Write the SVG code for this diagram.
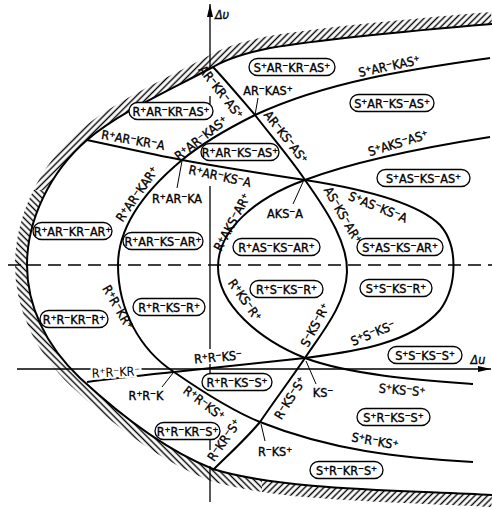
<svg xmlns="http://www.w3.org/2000/svg" width="492" height="509" viewBox="0 0 492 509">
<style>
.t{font-family:"DejaVu Sans Condensed","DejaVu Sans",sans-serif;font-size:12.5px;fill:#000;stroke:#000;stroke-width:0.35;text-anchor:middle}
.pl{fill:#fff;stroke:#000;stroke-width:1.3}
.c{fill:none;stroke:#000;stroke-width:2}
.ax{fill:none;stroke:#000;stroke-width:1.3}
.ld{fill:none;stroke:#000;stroke-width:1}
.halo{stroke:#fff;stroke-width:4;paint-order:stroke}
</style>
<defs>
<path id="bnd" d="M492,24 C420,30 330,38 270,48 C240,54 225,60 213,67 C170,90 120,112 87,140 C50,172 27,220 27,265 C27,305 45,345 80,378 C120,415 165,450 213,469 C280,490 400,490 492,495"/>
<pattern id="hA" width="4.5" height="4.5" patternUnits="userSpaceOnUse" patternTransform="rotate(45)"><line x1="2.25" y1="-1" x2="2.25" y2="6" stroke="#000" stroke-width="1.4"/></pattern>
<pattern id="hB" width="4.5" height="4.5" patternUnits="userSpaceOnUse" patternTransform="rotate(-45)"><line x1="2.25" y1="-1" x2="2.25" y2="6" stroke="#000" stroke-width="1.4"/></pattern>
<mask id="hm" maskUnits="userSpaceOnUse" x="0" y="0" width="492" height="509">
<use href="#bnd" fill="none" stroke="#fff" stroke-width="24"/>
<path d="M492,24 C420,30 330,38 270,48 C240,54 225,60 213,67 C170,90 120,112 87,140 C50,172 27,220 27,265 C27,305 45,345 80,378 C120,415 165,450 213,469 C280,490 400,490 492,495 Z" fill="#000"/>
</mask>
<marker id="arr" markerWidth="14" markerHeight="8" refX="13" refY="3.5" orient="auto" markerUnits="userSpaceOnUse"><path d="M0,0.5 L13,3.5 L0,6.5 Z" fill="#000"/></marker>
</defs>
<rect width="492" height="509" fill="#fff"/>

<g id="hatching" mask="url(#hm)">
<rect x="0" y="0" width="492" height="190" fill="url(#hA)"/>
<rect x="0" y="190" width="262" height="319" fill="url(#hB)"/>
<rect x="262" y="400" width="230" height="109" fill="url(#hA)"/>
</g>
<use id="boundary" href="#bnd" class="c"/>

<g id="axes">
<line class="ax" x1="210" y1="67" x2="210" y2="4" marker-end="url(#arr)"/>
<line class="ax" x1="210" y1="96" x2="210" y2="104"/>
<line class="ax" x1="210" y1="186" x2="210" y2="349"/>
<line class="ax" x1="210" y1="364" x2="210" y2="373"/>
<line class="ax" x1="210" y1="440" x2="210" y2="450"/>
<line class="ax" x1="210" y1="466" x2="210" y2="502"/>
<line class="ax" x1="17" y1="369" x2="92" y2="369"/>
<line class="ax" x1="139" y1="369" x2="491" y2="369" marker-end="url(#arr)"/>
<line class="ax" x1="8" y1="265" x2="492" y2="265" stroke-dasharray="13 7"/>
<text class="t" x="222" y="19" font-style="italic">Δυ</text>
<text class="t" x="478" y="364" font-style="italic">Δu</text>
</g>

<g id="connectors">
<path id="c1" class="c" d="M490,58 C420,68 330,80 255,115 C225,130 200,145 182,160 C140,195 118,230 118,265 C118,310 140,350 174,372 C200,390 230,410 260,422 C330,450 400,458 473,462"/>
<path id="c2" class="c" d="M87,140 C120,147 150,154 182,160 C225,168 265,174 305,180 C370,190 420,205 440,225 C458,245 458,285 440,310 C410,345 350,352 305,358 C260,363 215,368 174,372 C145,375 115,378 87,382"/>
<path id="c3" class="c" d="M213,67 C228,83 242,100 255,115 C272,137 290,158 305,180 C330,215 348,245 347,272 C346,305 320,335 305,358 C290,380 275,400 260,422 C245,440 228,455 213,470"/>
<path id="c4" class="c" d="M490,137 C420,148 350,163 305,180 C255,198 218,230 218,267 C218,305 260,340 305,358 C350,375 420,380 473,384"/>
<path class="ld" d="M258,98 L255,115"/>
<path class="ld" d="M182,161 L177,188"/>
<path class="ld" d="M303,182 L293,204"/>
<path class="ld" d="M173,373 L162,387"/>
<path class="ld" d="M306,361 L316,384"/>
<path class="ld" d="M261,424 L265,441"/>
</g>

<g id="n1"><rect class="pl" x="249" y="58.5" width="86" height="17" rx="8.5"/><text class="t" x="292" y="71.5">S⁺AR⁻KR⁻AS⁺</text></g>
<g id="n2"><rect class="pl" x="350" y="94.5" width="84" height="17" rx="8.5"/><text class="t" x="392" y="107.5">S⁺AR⁻KS⁻AS⁺</text></g>
<g id="n3"><rect class="pl" x="129" y="102.5" width="84" height="17" rx="8.5"/><text class="t" x="171" y="115.5">R⁺AR⁻KR⁻AS⁺</text></g>
<g id="n4"><rect class="pl" x="201" y="143.5" width="78" height="17" rx="8.5"/><text class="t" x="240" y="156.5">R⁺AR⁻KS⁻AS⁺</text></g>
<g id="n5"><rect class="pl" x="33" y="222.5" width="79" height="17" rx="8.5"/><text class="t" x="72.5" y="235.5">R⁺AR⁻KR⁻AR⁺</text></g>
<g id="n6"><rect class="pl" x="123" y="232.5" width="80" height="17" rx="8.5"/><text class="t" x="163" y="245.5">R⁺AR⁻KS⁻AR⁺</text></g>
<g id="n7"><rect class="pl" x="233" y="238.5" width="87" height="17" rx="8.5"/><text class="t" x="276.5" y="251.5">R⁺AS⁻KS⁻AR⁺</text></g>
<g id="n8"><rect class="pl" x="377" y="169.5" width="93" height="17" rx="8.5"/><text class="t" x="423.5" y="182.5">S⁺AS⁻KS⁻AS⁺</text></g>
<g id="n9"><rect class="pl" x="357" y="238.5" width="86" height="17" rx="8.5"/><text class="t" x="400" y="251.5">S⁺AS⁻KS⁻AR⁺</text></g>
<g id="n10"><rect class="pl" x="40" y="310.5" width="68" height="17" rx="8.5"/><text class="t" x="74" y="323.5">R⁺R⁻KR⁻R⁺</text></g>
<g id="n11"><rect class="pl" x="133" y="298.5" width="72" height="17" rx="8.5"/><text class="t" x="169" y="311.5">R⁺R⁻KS⁻R⁺</text></g>
<g id="n12"><rect class="pl" x="250" y="280.5" width="73" height="17" rx="8.5"/><text class="t" x="286.5" y="293.5">R⁺S⁻KS⁻R⁺</text></g>
<g id="n13"><rect class="pl" x="360" y="279.5" width="72" height="17" rx="8.5"/><text class="t" x="396" y="292.5">S⁺S⁻KS⁻R⁺</text></g>
<g id="n14"><rect class="pl" x="388" y="346.5" width="74" height="17" rx="8.5"/><text class="t" x="425" y="359.5">S⁺S⁻KS⁻S⁺</text></g>
<g id="n15"><rect class="pl" x="202" y="373.5" width="70" height="17" rx="8.5"/><text class="t" x="237" y="386.5">R⁺R⁻KS⁻S⁺</text></g>
<g id="n16"><rect class="pl" x="155" y="422.5" width="65" height="17" rx="8.5"/><text class="t" x="187.5" y="435.5">R⁺R⁻KR⁻S⁺</text></g>
<g id="n17"><rect class="pl" x="357" y="408.5" width="73" height="17" rx="8.5"/><text class="t" x="393.5" y="421.5">S⁺R⁻KS⁻S⁺</text></g>
<g id="n18"><rect class="pl" x="310" y="461.5" width="73" height="17" rx="8.5"/><text class="t" x="346.5" y="474.5">S⁺R⁻KR⁻S⁺</text></g>

<g id="edge-labels">
<text class="t" transform="translate(389,66) rotate(-12)" y="4.5">S⁺AR⁻KAS⁺</text>
<text class="t" x="268" y="94.5">AR⁻KAS⁺</text>
<text class="t" transform="translate(221,92) rotate(52)" y="4.5">AR⁻KR⁻AS⁺</text>
<text class="t" transform="translate(286,137) rotate(52)" y="4.5">AR⁻KS⁻AS⁺</text>
<text class="t" transform="translate(133,140) rotate(10)" y="4.5">R⁺AR⁻KR⁻A</text>
<text class="t" transform="translate(201,138) rotate(-38)" y="4.5">R⁺AR⁻KAS⁺</text>
<text class="t" transform="translate(220,176) rotate(12)" y="4.5">R⁺AR⁻KS⁻A</text>
<text class="t" x="177" y="202.5">R⁺AR⁻KA</text>
<text class="t" transform="translate(137,194) rotate(-55)" y="4.5">R⁺AR⁻KAR⁺</text>
<text class="t" transform="translate(232,222) rotate(-62)" y="4.5">R⁺AKS⁻AR⁺</text>
<text class="t" x="285" y="217.5">AKS⁻A</text>
<text class="t" transform="translate(343,215) rotate(60)" y="4.5">AS⁻KS⁻AR⁺</text>
<text class="t" transform="translate(378,207) rotate(22)" y="4.5">S⁺AS⁻KS⁻A</text>
<text class="t" transform="translate(398,143) rotate(-17)" y="4.5">S⁺AKS⁻AS⁺</text>
<text class="t" transform="translate(118,307) rotate(60)" y="4.5">R⁺R⁻KR⁺</text>
<text class="t" transform="translate(245,300) rotate(55)" y="4.5">R⁺KS⁻R⁺</text>
<text class="t" transform="translate(315,325) rotate(-62)" y="4.5">S⁻KS⁻R⁺</text>
<text class="t" transform="translate(373,333) rotate(-22)" y="4.5">S⁺S⁻KS⁻</text>
<text class="t halo" transform="translate(116,372) rotate(-3)" y="4.5">R⁺R⁻KR⁻</text>
<text class="t" transform="translate(218,357) rotate(-5)" y="4.5">R⁺R⁻KS⁻</text>
<text class="t" x="146" y="399.5">R⁺R⁻K</text>
<text class="t" transform="translate(204,403) rotate(37)" y="4.5">R⁺R⁻KS⁺</text>
<text class="t" transform="translate(224,440) rotate(-55)" y="4.5">R⁻KR⁻S⁺</text>
<text class="t" transform="translate(290,398) rotate(-58)" y="4.5">R⁻KS⁻S⁺</text>
<text class="t" x="323" y="396.5">KS⁻</text>
<text class="t" transform="translate(402,390) rotate(5)" y="4.5">S⁺KS⁻S⁺</text>
<text class="t" x="275" y="455.5">R⁻KS⁺</text>
<text class="t" transform="translate(375,441) rotate(10)" y="4.5">S⁺R⁻KS⁺</text>
</g>
</svg>
